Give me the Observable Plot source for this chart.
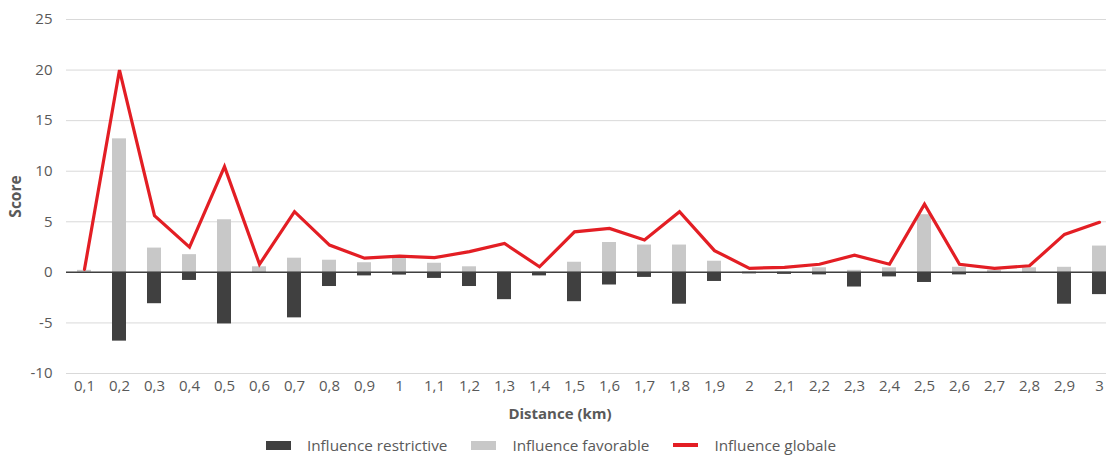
<!DOCTYPE html>
<html>
<head>
<meta charset="utf-8">
<script src="https://cdn.jsdelivr.net/npm/d3@7"></script>
<script src="https://cdn.jsdelivr.net/npm/@observablehq/plot@0.6"></script>
<style>
  html, body { margin: 0; padding: 0; background: #fff; overflow: hidden; }
  body { width: 1106px; height: 460px; font-family: "Open Sans", sans-serif; color: #595959; }
  #chart svg { display: block; }
  g[aria-label="y-axis label"] text { font-weight: bold; font-size: 15.5px; }
  #xlabel { position: absolute; left: 0; top: 401px; width: 1120px; text-align: center; font-weight: bold; font-size: 15px; line-height: 24px; color: #595959; }
  #legend { position: absolute; left: 0; top: 432px; width: 1102px; display: flex; justify-content: center; align-items: center; font-size: 15.3px; line-height: 26px; color: #595959; }
  .item { display: flex; align-items: center; margin: 0 12px; }
  .sw { width: 25px; height: 9px; margin-right: 16px; }
  .ln { width: 25px; height: 4px; margin-right: 16px; }
</style>
</head>
<body>
<div id="chart"></div>
<div id="xlabel">Distance (km)</div>
<div id="legend"></div>
<script>
const categories = ["0,1","0,2","0,3","0,4","0,5","0,6","0,7","0,8","0,9","1","1,1","1,2","1,3","1,4","1,5","1,6","1,7","1,8","1,9","2","2,1","2,2","2,3","2,4","2,5","2,6","2,7","2,8","2,9","3"];
const restrictive = [0, -6.8, -3.1, -0.8, -5.1, -0.1, -4.5, -1.4, -0.35, -0.27, -0.6, -1.4, -2.7, -0.35, -2.9, -1.25, -0.5, -3.15, -0.9, -0.15, -0.2, -0.25, -1.45, -0.45, -1.0, -0.25, -0.1, -0.05, -3.15, -2.2];
const favorable = [0.2, 13.2, 2.4, 1.75, 5.2, 0.55, 1.4, 1.2, 0.95, 1.4, 0.9, 0.55, 0.05, 0.05, 1.0, 2.95, 2.7, 2.7, 1.1, 0.05, 0.05, 0.45, 0.2, 0.45, 5.7, 0.5, 0.2, 0.45, 0.5, 2.6];
const globale = [0.3, 20.0, 5.6, 2.5, 10.45, 0.8, 6.0, 2.7, 1.4, 1.6, 1.45, 2.05, 2.85, 0.55, 4.0, 4.35, 3.2, 6.0, 2.15, 0.4, 0.5, 0.8, 1.7, 0.8, 6.75, 0.8, 0.4, 0.65, 3.75, 4.95];
const yTicks = [-10, -5, 0, 5, 10, 15, 20, 25];
const seriesNames = ["Influence restrictive", "Influence favorable", "Influence globale"];
const colors = { restrictive: "#404040", favorable: "#c8c8c8", globale: "#e31e24" };

const rows = categories.map((c, i) => ({ cat: c, r: restrictive[i], f: favorable[i], g: globale[i] }));

const plot = Plot.plot({
  width: 1106,
  height: 400,
  marginTop: 19,
  marginBottom: 27,
  marginLeft: 66,
  marginRight: 0,
  style: { fontFamily: "'Open Sans', sans-serif", fontSize: "15px", color: "#595959", background: "#fff" },
  x: { type: "band", domain: categories, range: [66, 1116], paddingInner: 0.6, paddingOuter: 0.3 },
  y: { domain: [-10, 25] },
  marks: [
    Plot.ruleY(yTicks, { stroke: "#d9d9d9", strokeWidth: 1 }),
    Plot.barY(rows, { x: "cat", y: "f", fill: colors.favorable }),
    Plot.barY(rows, { x: "cat", y: "r", fill: colors.restrictive }),
    Plot.ruleY([0], { stroke: "#404040", strokeWidth: 1.5 }),
    Plot.line(rows, { x: "cat", y: "g", stroke: colors.globale, strokeWidth: 3.2, strokeLinejoin: "miter", strokeMiterlimit: 4 }),
    Plot.axisX({ tickSize: 0, tickPadding: 7, label: null, fill: "#595959" }),
    Plot.axisY({ ticks: yTicks, tickSize: 0, tickPadding: 14, tickFormat: d => String(d), label: "Score", labelAnchor: "center", labelOffset: 57, labelArrow: "none", fill: "#595959" })
  ]
});
document.getElementById("chart").appendChild(plot);

const legend = document.getElementById("legend");
const swClass = ["sw", "sw", "ln"];
const swColor = [colors.restrictive, colors.favorable, colors.globale];
seriesNames.forEach((name, i) => {
  const it = document.createElement("div");
  it.className = "item";
  const s = document.createElement("span");
  s.className = swClass[i];
  s.style.background = swColor[i];
  const t = document.createElement("span");
  t.textContent = name;
  it.appendChild(s); it.appendChild(t);
  legend.appendChild(it);
});
</script>
</body>
</html>
